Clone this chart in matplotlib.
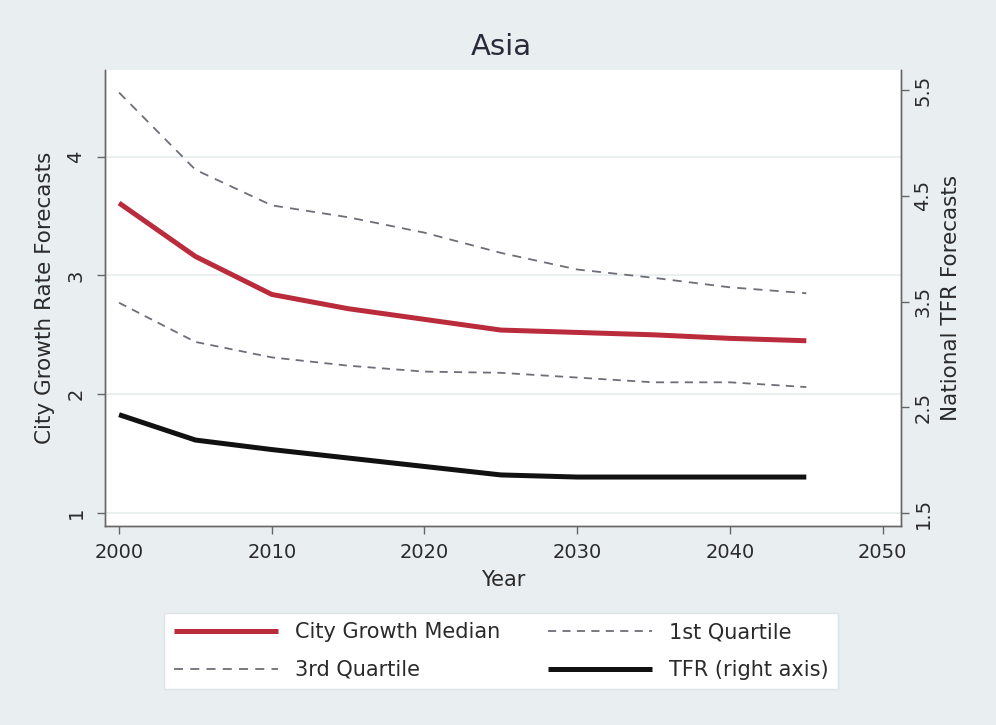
import matplotlib
matplotlib.use("Agg")
import matplotlib.pyplot as plt

years = [2000, 2005, 2010, 2015, 2020, 2025, 2030, 2035, 2040, 2045]
median = [3.61, 3.16, 2.84, 2.72, 2.63, 2.54, 2.52, 2.50, 2.47, 2.45]
q3 = [4.54, 3.89, 3.59, 3.49, 3.36, 3.19, 3.05, 2.98, 2.90, 2.85]
q1 = [2.77, 2.44, 2.31, 2.24, 2.19, 2.18, 2.14, 2.10, 2.10, 2.06]
tfr = [2.43, 2.19, 2.10, 2.02, 1.94, 1.86, 1.84, 1.84, 1.84, 1.84]

x_ticks = [2000, 2010, 2020, 2030, 2040, 2050]
left_ticks = [1, 2, 3, 4]
right_ticks = [1.5, 2.5, 3.5, 4.5, 5.5]

plt.rcParams['font.family'] = ['DejaVu Sans']
txt = '#2a2a2a'
bg = '#E9EFF1'

fig = plt.figure(figsize=(9.96, 7.25), dpi=100, facecolor=bg)
ax = fig.add_axes([105/996, 1-526/725, 796/996, 456/725])
ax.set_facecolor('white')
ax2 = ax.twinx()

ax.set_xlim(1999.08, 2051.2)
ax.set_ylim(0.89, 4.73)
ax2.set_ylim(1.377, 5.69)

ax.grid(axis='y', color='#E6ECEE', linewidth=1.2)
ax.set_axisbelow(True)

l_med, = ax.plot(years, median, color='#BA2C3C', lw=3.6, solid_capstyle='butt')
l_q1, = ax.plot(years, q1, color='#6E6E78', lw=1.3, linestyle=(0, (4.5, 3.5)))
l_q3, = ax.plot(years, q3, color='#6E6E78', lw=1.3, linestyle=(0, (5, 4)))
l_tfr, = ax2.plot(years, tfr, color='#111111', lw=3.6, solid_capstyle='butt')

ax.set_xticks(x_ticks)
ax.set_yticks(left_ticks)
ax2.set_yticks(right_ticks)
ax.set_yticklabels([str(v) for v in left_ticks], rotation=90, va='center')
ax2.set_yticklabels([str(v) for v in right_ticks], rotation=90, va='center')

for a in (ax, ax2):
    a.spines['top'].set_visible(False)
    for s in ('left', 'right', 'bottom'):
        a.spines[s].set_color('#666666')
        a.spines[s].set_linewidth(1.0)
    a.tick_params(colors='#666666', labelcolor=txt, length=6, width=1, labelsize=14)
ax.tick_params(axis='y', pad=8)
ax.tick_params(axis='x', pad=6)
ax2.tick_params(axis='y', pad=3)

ax.set_xlabel('Year', fontsize=15, color=txt, labelpad=6)
ax.set_ylabel('City Growth Rate Forecasts', fontsize=15.5, color=txt, labelpad=8)
ax2.set_ylabel('National TFR Forecasts', fontsize=15.5, color=txt, labelpad=6)

fig.text(0.503, 1-47/725, 'Asia', ha='center', va='center', fontsize=21, color='#2a2a3a')

handles = [l_med, l_q3, l_q1, l_tfr]
labels = ['City Growth Median', '3rd Quartile', '1st Quartile', 'TFR (right axis)']
leg = fig.legend(handles, labels, loc='center', bbox_to_anchor=(0.503, 1-651/725),
                 ncol=2, fontsize=15, frameon=True, fancybox=False, framealpha=1,
                 handlelength=5.0, handletextpad=0.8, columnspacing=2.3,
                 labelspacing=0.85, borderpad=0.45)
leg.get_frame().set_facecolor('white')
leg.get_frame().set_edgecolor('#DDE3E6')
leg.get_frame().set_linewidth(1.0)
for t in leg.get_texts():
    t.set_color(txt)

fig.savefig('out.png', dpi=100, facecolor=bg)
